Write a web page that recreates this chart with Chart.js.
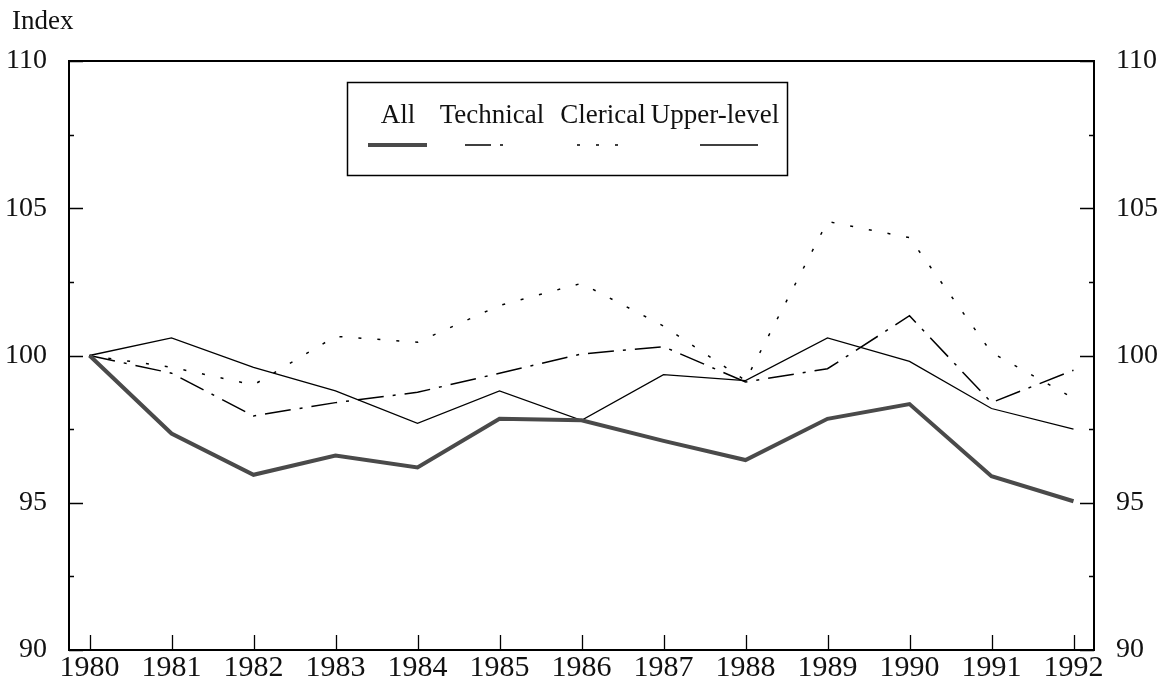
<!DOCTYPE html>
<html>
<head>
<meta charset="utf-8">
<script src="https://cdn.jsdelivr.net/npm/chart.js@4.4.1/dist/chart.umd.min.js"></script>
<style>
body { margin: 0; background: #fff; }
</style>
</head>
<body>
<canvas id="grafico_indice" width="1161" height="691"></canvas>
<script>
// dados
const anos = [1980, 1981, 1982, 1983, 1984, 1985, 1986, 1987, 1988, 1989, 1990, 1991, 1992];
const serieAll = [100, 97.35, 95.95, 96.6, 96.2, 97.85, 97.8, 97.1, 96.45, 97.85, 98.35, 95.9, 95.05];
const serieTechnical = [100, 99.4, 97.95, 98.4, 98.75, 99.4, 100.05, 100.3, 99.1, 99.55, 101.35, 98.4, 99.5];
const serieClerical = [100, 99.6, 99.0, 100.65, 100.45, 101.7, 102.45, 101.0, 99.15, 104.55, 104.0, 100.1, 98.55];
const serieUpper = [100, 100.6, 99.6, 98.8, 97.7, 98.8, 97.8, 99.35, 99.15, 100.6, 99.8, 98.2, 97.5];
const rotulosSeries = ['All', 'Technical', 'Clerical', 'Upper-level'];
const ticksY = [90, 95, 100, 105, 110];

const fonte = "'Liberation Serif', 'DejaVu Serif', serif";
const corTexto = '#111';

function pontos(valores) {
   return anos.map((ano, i) => ({ x: ano, y: valores[i] }));
}

// moldura e marcas para dentro
const moldura = {
   id: 'moldura',
   afterDraw(chart) {
      const ctx = chart.ctx;
      const area = chart.chartArea;
      const y = chart.scales.y;
      const x = chart.scales.x;
      ctx.save();
      ctx.strokeStyle = '#000';
      ctx.lineWidth = 2;
      ctx.strokeRect(area.left, area.top, area.right - area.left, area.bottom - area.top);
      ctx.lineWidth = 1.3;
      ctx.beginPath();
      for (let v = 90; v <= 110; v += 2.5) {
         const py = Math.round(y.getPixelForValue(v)) + 0.5;
         const len = (v % 5 === 0) ? 14 : 5;
         ctx.moveTo(area.left, py);
         ctx.lineTo(area.left + len, py);
         ctx.moveTo(area.right, py);
         ctx.lineTo(area.right - len, py);
      }
      anos.forEach(ano => {
         const px = Math.round(x.getPixelForValue(ano)) + 0.5;
         ctx.moveTo(px, area.bottom);
         ctx.lineTo(px, area.bottom - 15);
      });
      ctx.stroke();

      ctx.fillStyle = corTexto;
      ctx.font = '27px ' + fonte;
      ctx.textBaseline = 'alphabetic';
      ctx.textAlign = 'left';
      ctx.fillText('Index', 12, 29);
      ctx.restore();
   }
};

// legenda em caixa, texto em cima e amostra embaixo
const legendaCaixa = {
   id: 'legendaCaixa',
   afterDraw(chart) {
      const ctx = chart.ctx;
      const centros = [398, 492, 603, 715];
      const amostras = [[368, 427], [465, 510], [577, 620], [700, 758]];
      ctx.save();
      ctx.strokeStyle = '#000';
      ctx.lineWidth = 1.5;
      ctx.strokeRect(347.5, 82.5, 440, 93);
      ctx.fillStyle = corTexto;
      ctx.font = '27px ' + fonte;
      ctx.textAlign = 'center';
      ctx.textBaseline = 'alphabetic';
      chart.data.datasets.forEach((ds, i) => {
         ctx.fillText(ds.label, centros[i], 123);
         ctx.beginPath();
         ctx.strokeStyle = ds.borderColor;
         ctx.lineWidth = ds.borderWidth;
         ctx.setLineDash(ds.borderDash || []);
         ctx.moveTo(amostras[i][0], 145);
         ctx.lineTo(amostras[i][1], 145);
         ctx.stroke();
      });
      ctx.restore();
   }
};

const eixoY = (posicao, largura, padding) => ({
   type: 'linear',
   position: posicao,
   min: 90,
   max: 110,
   afterBuildTicks: s => { s.ticks = ticksY.map(v => ({ value: v })); },
   afterFit: s => { s.width = largura; },
   grid: { display: false },
   border: { display: false },
   ticks: {
      padding: padding,
      color: corTexto,
      font: { family: fonte, size: 28 },
      callback: v => String(v)
   }
});

const ctx = document.getElementById('grafico_indice');
new Chart(ctx, {
   type: 'line',
   data: {
      datasets: [{
         label: rotulosSeries[0],
         data: pontos(serieAll),
         borderColor: '#4a4a4a',
         borderWidth: 4,
         pointRadius: 0,
         tension: 0
      }, {
         label: rotulosSeries[1],
         data: pontos(serieTechnical),
         borderColor: '#000',
         borderWidth: 1.5,
         borderDash: [26, 9, 3, 9],
         pointRadius: 0,
         tension: 0
      }, {
         label: rotulosSeries[2],
         data: pontos(serieClerical),
         borderColor: '#000',
         borderWidth: 1.5,
         borderDash: [3, 16],
         pointRadius: 0,
         tension: 0
      }, {
         label: rotulosSeries[3],
         data: pontos(serieUpper),
         borderColor: '#000',
         borderWidth: 1.3,
         pointRadius: 0,
         tension: 0
      }]
   },
   options: {
      responsive: false,
      animation: false,
      layout: {
         padding: { top: 61, left: 0, right: 0, bottom: 0 }
      },
      plugins: {
         legend: { display: false },
         tooltip: { enabled: false }
      },
      scales: {
         x: {
            type: 'linear',
            min: 1979.75,
            max: 1992.25,
            afterBuildTicks: s => { s.ticks = anos.map(v => ({ value: v })); },
            afterFit: s => { s.height = 41; },
            grid: { display: false },
            border: { display: false },
            ticks: {
               padding: -8,
               maxRotation: 0,
               autoSkip: false,
               color: corTexto,
               font: { family: fonte, size: 30 },
               callback: v => String(v)
            }
         },
         y: eixoY('left', 69, 14),
         y2: eixoY('right', 67, 14)
      }
   },
   plugins: [moldura, legendaCaixa]
});
</script>
</body>
</html>
